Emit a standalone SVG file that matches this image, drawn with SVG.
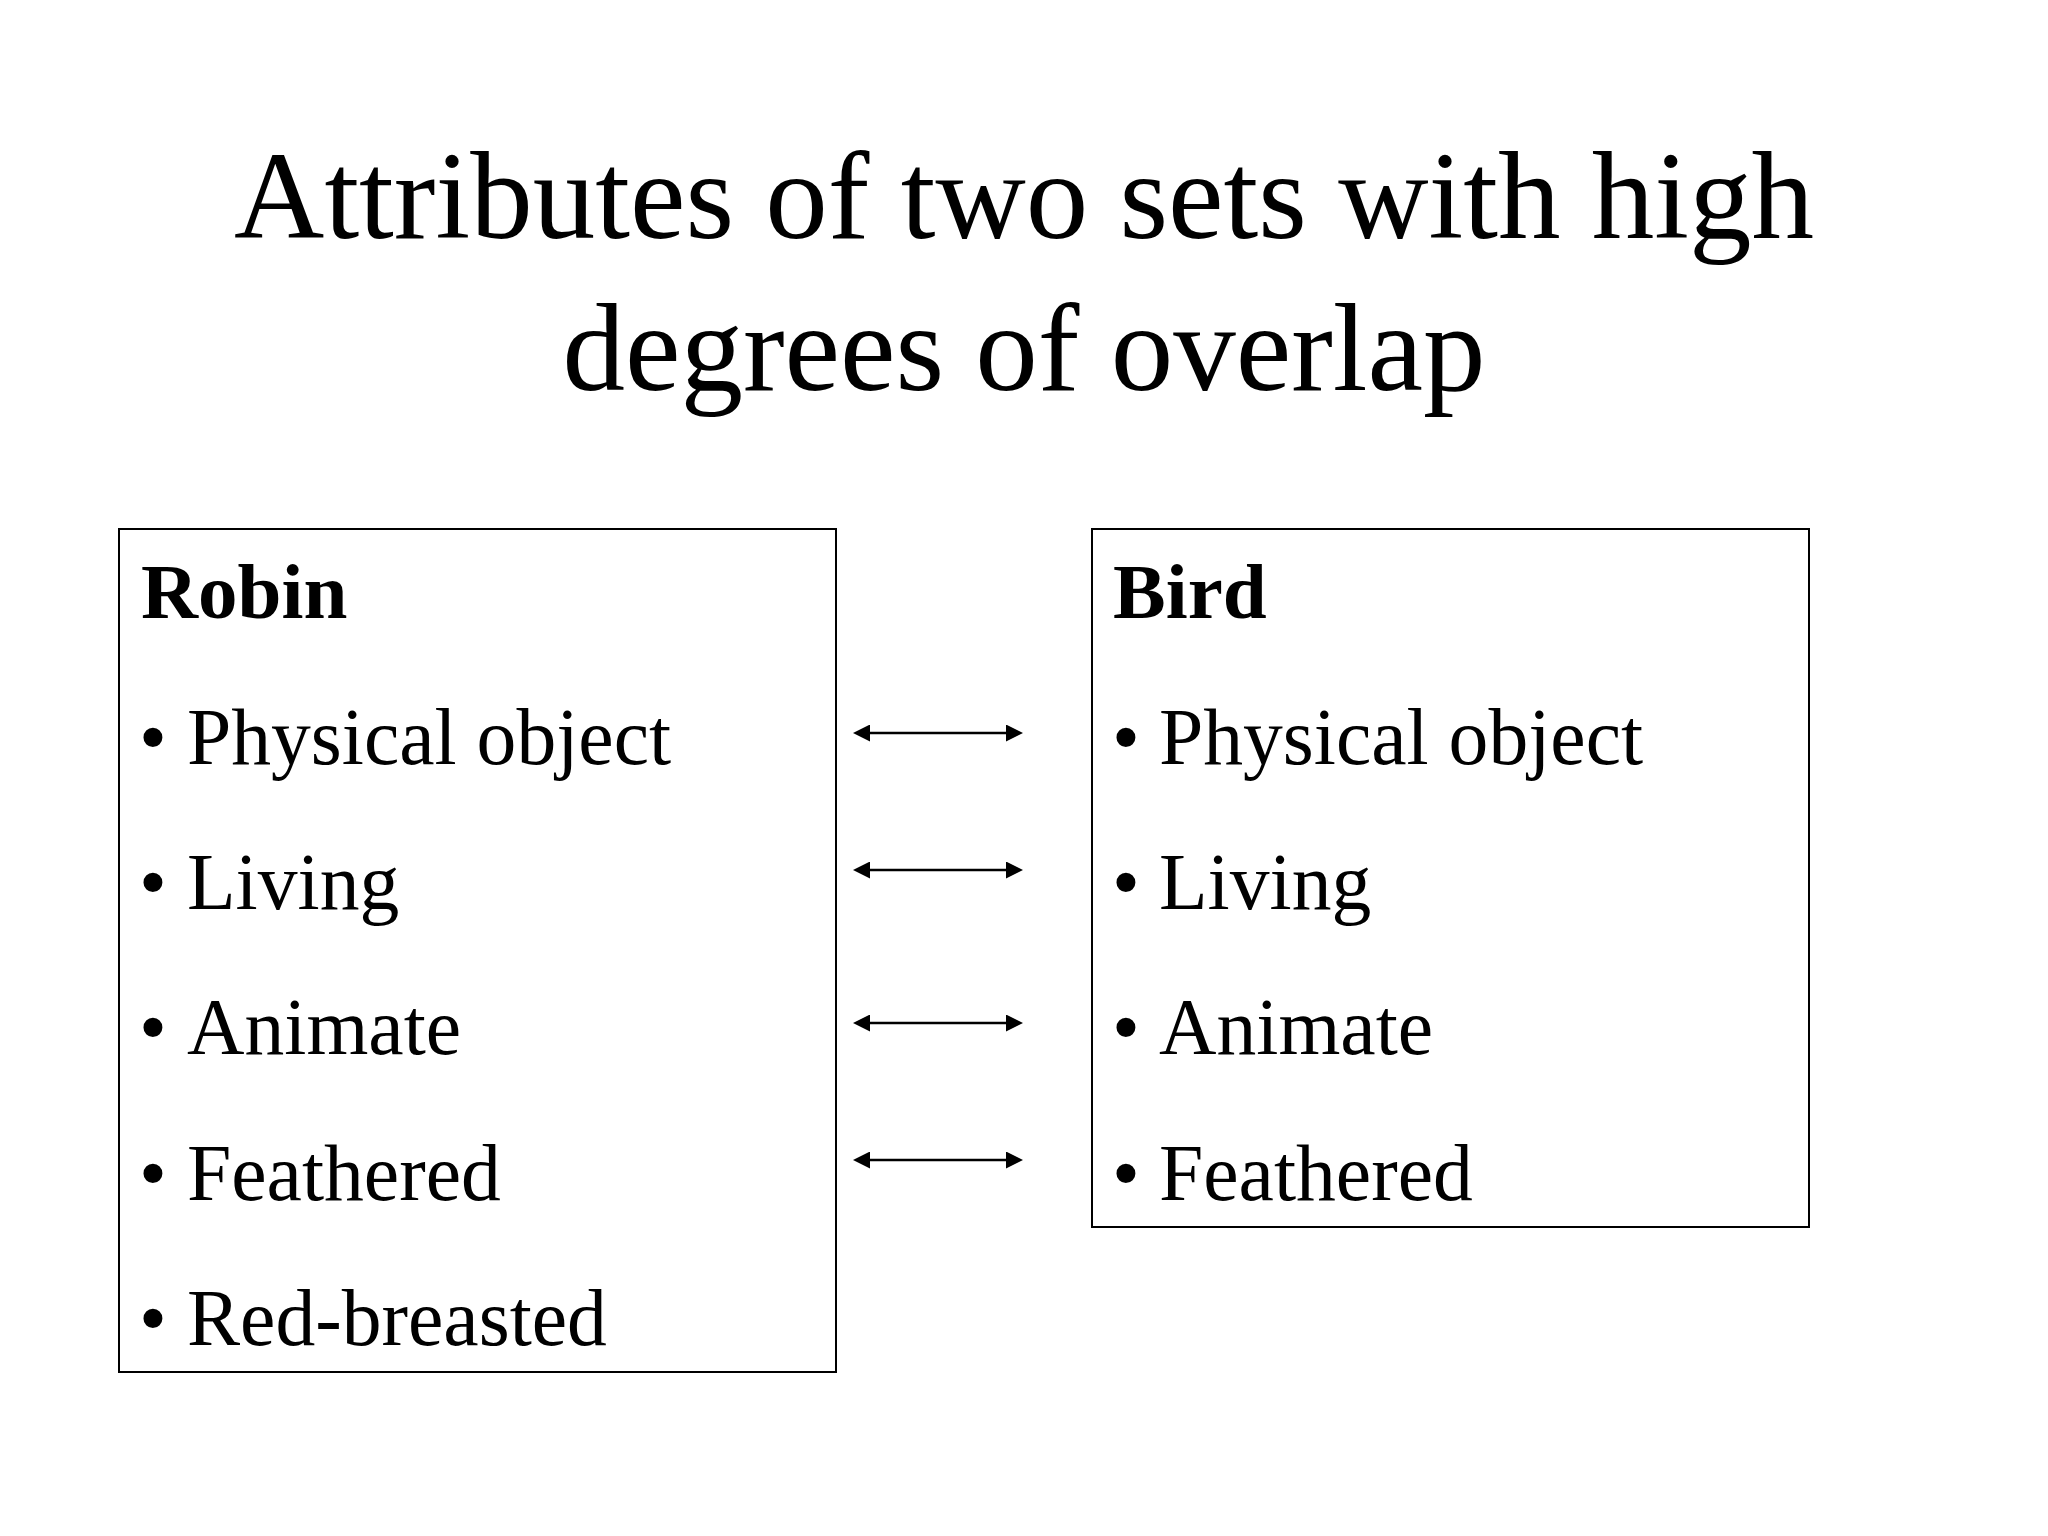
<svg xmlns="http://www.w3.org/2000/svg" width="2048" height="1536" viewBox="0 0 2048 1536">
<style>
.title{font-family:"Liberation Serif","Times New Roman",serif;font-size:125px;fill:#000;text-anchor:middle}
.head{font-family:"Liberation Serif","Times New Roman",serif;font-size:79px;font-weight:bold;fill:#000}
.item{font-family:"Liberation Serif","Times New Roman",serif;font-size:79.6px;fill:#000}
.box{fill:#fff;stroke:#000;stroke-width:2}
.conn{stroke:#000;stroke-width:2.5;fill:none;marker-start:url(#ah);marker-end:url(#ah)}
</style>
<defs>
<marker id="ah" viewBox="0 0 17 17" refX="7" refY="8.5" markerWidth="17" markerHeight="17" markerUnits="userSpaceOnUse" orient="auto-start-reverse">
<path d="M0,0 L17,8.5 L0,17 Z" fill="#000"/>
</marker>
</defs>
<rect width="2048" height="1536" fill="#fff"/>
<g id="title">
<text class="title" x="1024" y="238">Attributes of two sets with high</text>
<text class="title" x="1024" y="390">degrees of overlap</text>
</g>
<g id="robin">
<rect class="box" x="119" y="529" width="717" height="843"/>
<text class="head" x="141" y="618">Robin</text>
<text class="item" y="764"><tspan x="139">•</tspan><tspan x="187">Physical object</tspan></text>
<text class="item" y="909"><tspan x="139">•</tspan><tspan x="187">Living</tspan></text>
<text class="item" y="1054"><tspan x="139">•</tspan><tspan x="187">Animate</tspan></text>
<text class="item" y="1200"><tspan x="139">•</tspan><tspan x="187">Feathered</tspan></text>
<text class="item" y="1345"><tspan x="139">•</tspan><tspan x="187">Red-breasted</tspan></text>
</g>
<g id="bird">
<rect class="box" x="1092" y="529" width="717" height="698"/>
<text class="head" x="1113" y="618">Bird</text>
<text class="item" y="764"><tspan x="1112">•</tspan><tspan x="1159">Physical object</tspan></text>
<text class="item" y="909"><tspan x="1112">•</tspan><tspan x="1159">Living</tspan></text>
<text class="item" y="1054"><tspan x="1112">•</tspan><tspan x="1159">Animate</tspan></text>
<text class="item" y="1200"><tspan x="1112">•</tspan><tspan x="1159">Feathered</tspan></text>
</g>
<g id="connectors">
<line class="conn" x1="863" y1="733" x2="1013" y2="733"/>
<line class="conn" x1="863" y1="870" x2="1013" y2="870"/>
<line class="conn" x1="863" y1="1023" x2="1013" y2="1023"/>
<line class="conn" x1="863" y1="1160" x2="1013" y2="1160"/>
</g>
</svg>
